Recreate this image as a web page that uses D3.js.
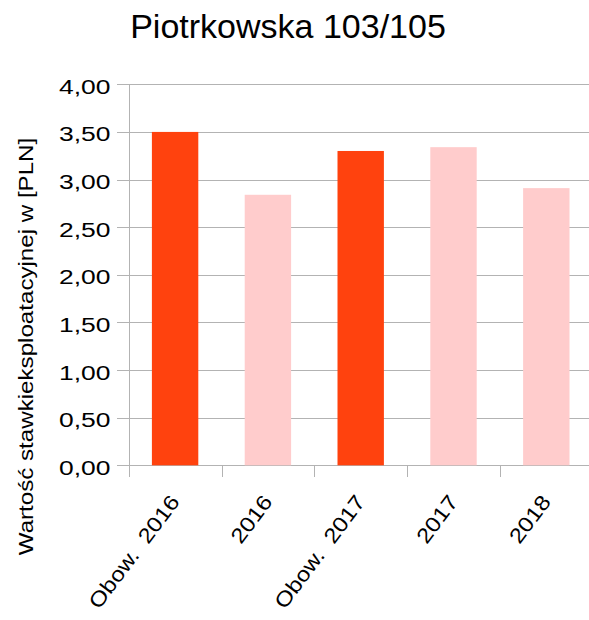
<!DOCTYPE html>
<html><head><meta charset="utf-8">
<script src="https://cdn.jsdelivr.net/npm/d3@7"></script>
<style>body{margin:0;background:#fff;} svg{display:block;} text{font-family:"Liberation Sans",Arial,sans-serif;}</style>
</head><body>
<script>
const categories = ["Obow.  2016", "2016", "Obow.  2017", "2017", "2018"];
const values = [3.50, 2.84, 3.30, 3.34, 2.91];
const colorKeys = ["obow", "real", "obow", "real", "real"];
const yTicks = [0, 0.5, 1, 1.5, 2, 2.5, 3, 3.5, 4];
const title = "Piotrkowska 103/105";
const yLabel = "Wartość stawkieksploatacyjnej w [PLN]";

const W = 589, H = 620;
const FS = 21;
const svg = d3.select("body").append("svg").attr("width", W).attr("height", H);
const x = d3.scaleBand().domain(categories).range([128.7, 592.7]).paddingInner(0.5).paddingOuter(0.25);
const xb = d3.scaleBand().domain(categories).range([128.7, 592.7]);
const y = d3.scaleLinear().domain([0, 4]).range([465.3, 84.3]);
const color = d3.scaleOrdinal().domain(["obow", "real"]).range(["#ff420e", "#ffcccc"]);
const grid = "#b3b3b3";

svg.append("g").selectAll("line").data(yTicks).join("line")
  .attr("x1", 117).attr("x2", 592.7)
  .attr("y1", d => Math.round(y(d)) + 0.5).attr("y2", d => Math.round(y(d)) + 0.5)
  .attr("stroke", grid).attr("stroke-width", 1);

svg.append("g").selectAll("rect").data(categories).join("rect")
  .attr("x", d => x(d)).attr("width", x.bandwidth())
  .attr("y", (d, i) => y(values[i])).attr("height", (d, i) => y(0) - y(values[i]))
  .attr("fill", (d, i) => color(colorKeys[i]));

svg.append("line").attr("x1", 129.5).attr("x2", 129.5).attr("y1", y(4)).attr("y2", y(0) + 1)
  .attr("stroke", grid);

const bounds = categories.map(c => xb(c)).concat([xb(categories[4]) + xb.bandwidth()]);
svg.append("g").selectAll("line").data(bounds).join("line")
  .attr("x1", d => Math.round(d) + 0.5).attr("x2", d => Math.round(d) + 0.5)
  .attr("y1", y(0)).attr("y2", 477).attr("stroke", grid);

svg.append("g").selectAll("text").data(yTicks).join("text")
  .attr("transform", d => `translate(110.5,${y(d) + 9.5}) scale(1.26,1)`)
  .attr("text-anchor", "end").attr("font-size", FS).attr("fill", "#000")
  .text(d => d.toFixed(2).replace(".", ","));

svg.append("g").selectAll("text").data(categories).join("text")
  .attr("transform", d => `translate(${xb(d) + xb.bandwidth() / 2 + 5.5},502) rotate(-53) scale(1.15,1)`)
  .attr("text-anchor", "end").attr("font-size", FS).attr("fill", "#000")
  .text(d => d.replace(/  /g, "\u00a0 "));

svg.append("text").attr("x", 288).attr("y", 38).attr("text-anchor", "middle")
  .attr("font-size", 34).attr("fill", "#000").text(title);

svg.append("text").attr("transform", `translate(33,346.5) rotate(-90) scale(1.15,1)`)
  .attr("text-anchor", "middle").attr("font-size", FS).attr("fill", "#000").text(yLabel);
</script>
</body></html>
